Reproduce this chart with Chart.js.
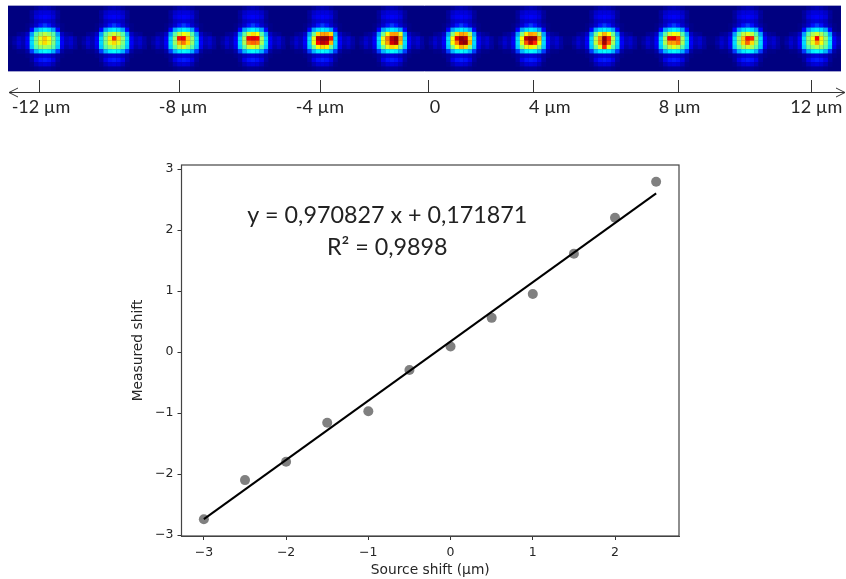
<!DOCTYPE html>
<html>
<head>
<meta charset="utf-8">
<title>Source shift vs measured shift</title>
<script src="https://cdn.jsdelivr.net/npm/chart.js@4"></script>
<style>
	body { margin: 0; background: #fff; }
	#strip { position: absolute; left: 0; top: 0; }
	#fit { position: absolute; left: 0; top: 140px; }
</style>
</head>
<body>
<canvas id="strip" width="846" height="125"></canvas>
<canvas id="fit" width="846" height="439"></canvas>
<script>
// scatter values
var sourceShift = [-3, -2.5, -2, -1.5, -1, -0.5, 0, 0.5, 1, 1.5, 2, 2.5];
var measuredShift = [-2.74, -2.10, -1.80, -1.16, -0.97, -0.295, 0.09, 0.56, 0.95, 1.61, 2.20, 2.79];
var fitX = [-3, 2.5];
var fitY = [-2.74, 2.60];
var xTickValues = [-3, -2, -1, 0, 1, 2];
var yTickValues = [-3, -2, -1, 0, 1, 2, 3];
var fitLabel = "y = 0,970827 x + 0,171871";
var r2Label = "R\u00b2 = 0,9898";

// strip: intensity in percent of the colour range, 15 rows by 17 columns around a spot
var spotProfile = [
	[0, 0, 0, 0, 0, 0, 2, 4, 5, 4, 2, 0, 0, 0, 0, 0, 0],
	[0, 0, 0, 0, 0, 3, 7, 9, 9, 9, 7, 3, 0, 0, 0, 0, 0],
	[0, 0, 0, 0, 0, 3, 9, 11, 12, 11, 9, 3, 0, 0, 0, 0, 0],
	[0, 0, 0, 0, 0, 2, 6, 8, 9, 8, 6, 2, 0, 0, 0, 0, 0],
	[0, 0, 0, 0, 1, 4, 8, 14, 18, 14, 8, 4, 1, 0, 0, 0, 0],
	[0, 0, 0, 0, 1, 12, 28, 34, 36, 34, 28, 12, 1, 0, 0, 0, 0],
	[0, 0, 2, 3, 7, 28, 42, 50, 54, 50, 42, 28, 7, 3, 2, 0, 0],
	[1, 3, 7, 5, 12, 34, 50, 60, 64, 60, 50, 34, 12, 6, 8, 4, 1],
	[1, 4, 8, 5, 12, 34, 50, 60, 64, 60, 50, 34, 12, 6, 8, 4, 1],
	[0, 2, 6, 4, 10, 32, 46, 54, 56, 54, 46, 32, 10, 4, 6, 3, 0],
	[0, 0, 1, 1, 4, 18, 30, 36, 38, 36, 30, 18, 4, 1, 1, 0, 0],
	[0, 0, 0, 0, 1, 3, 6, 8, 9, 8, 6, 3, 1, 0, 0, 0, 0],
	[0, 0, 0, 0, 0, 3, 10, 14, 15, 14, 10, 3, 0, 0, 0, 0, 0],
	[0, 0, 0, 0, 0, 1, 5, 8, 9, 8, 5, 1, 0, 0, 0, 0, 0],
	[0, 0, 0, 0, 0, 0, 1, 2, 2, 2, 1, 0, 0, 0, 0, 0, 0]
];
// brightest part of each spot, rows 6-9, columns 6-10 of the profile
var spotCores = [
	[[46, 52, 56, 52, 46], [50, 60, 68, 62, 50], [50, 60, 66, 60, 50], [46, 52, 54, 52, 46]],
	[[46, 54, 58, 54, 46], [50, 64, 82, 66, 52], [50, 60, 66, 60, 50], [46, 52, 56, 52, 46]],
	[[46, 56, 62, 58, 46], [52, 86, 88, 68, 52], [52, 70, 76, 66, 52], [46, 56, 60, 54, 46]],
	[[46, 58, 66, 62, 46], [54, 88, 90, 88, 54], [54, 76, 78, 76, 54], [46, 58, 60, 58, 46]],
	[[48, 66, 72, 72, 66], [60, 94, 98, 98, 86], [60, 88, 94, 92, 70], [48, 62, 66, 64, 48]],
	[[48, 62, 72, 72, 60], [60, 76, 94, 98, 72], [60, 72, 92, 96, 68], [48, 60, 66, 64, 50]],
	[[50, 66, 72, 70, 54], [62, 90, 98, 94, 66], [62, 76, 96, 98, 70], [50, 62, 70, 66, 50]],
	[[50, 64, 72, 70, 54], [62, 94, 98, 96, 70], [60, 80, 94, 84, 62], [50, 60, 64, 60, 50]],
	[[48, 60, 70, 62, 48], [56, 74, 98, 84, 56], [56, 74, 96, 80, 54], [48, 60, 84, 60, 46]],
	[[46, 58, 62, 60, 46], [54, 88, 90, 80, 54], [54, 72, 72, 76, 54], [46, 56, 60, 56, 46]],
	[[46, 56, 60, 56, 46], [52, 68, 86, 84, 52], [52, 66, 78, 66, 52], [46, 54, 58, 54, 46]],
	[[46, 54, 58, 54, 46], [52, 62, 88, 64, 52], [52, 60, 72, 62, 50], [46, 52, 56, 52, 46]]
];
var spotColumns = [8, 24, 40, 56, 72, 88, 104, 120, 137, 153, 170, 186];
// hand placed ruler under the strip, in strip columns
var rulerTicks = [7.1, 39.4, 71.9, 96.9, 121, 154.4, 185];
var rulerLabelAt = [7.6, 40.3, 71.9, 98.4, 124.9, 154.8, 186.3];
var rulerLabels = ["-12 \u00b5m", "-8 \u00b5m", "-4 \u00b5m", "0", "4 \u00b5m", "8 \u00b5m", "12 \u00b5m"];

var COLUMNS = 192, ROWS = 15;
var inkColor = "#262626";

function jet(p) {
	var v = p / 100;
	function ch(c) { return Math.round(255 * Math.max(0, Math.min(1, 1.5 - Math.abs(4 * v - c)))); }
	return "rgb(" + ch(3) + "," + ch(2) + "," + ch(1) + ")";
}

var cells = [];
spotColumns.forEach(function(col, s){
	spotProfile.forEach(function(row, r){
		row.forEach(function(val, c){
			if(r >= 6 && r <= 9 && c >= 6 && c <= 10){
				val = spotCores[s][r - 6][c - 6];
			}
			if(val > 0){
				cells.push({x: col + c - 8 + 0.5, y: r + 0.5, v: val});
			}
		});
	});
});

var stripPlugin = {
	id: "strip",
	beforeDatasetsDraw: function(chart){
		var a = chart.chartArea, ctx = chart.ctx;
		ctx.fillStyle = jet(0);
		ctx.fillRect(a.left, a.top, a.width, a.height);
	},
	afterDatasetsDraw: function(chart){
		// the picture is a soft scan, take the hard edge off the cells
		var a = chart.chartArea, ctx = chart.ctx;
		ctx.save();
		ctx.beginPath();
		ctx.rect(a.left, a.top, a.width, a.height);
		ctx.clip();
		ctx.filter = "blur(0.7px)";
		ctx.drawImage(chart.canvas, a.left, a.top, a.width, a.height, a.left, a.top, a.width, a.height);
		ctx.restore();
	},
	afterDraw: function(chart){
		var a = chart.chartArea, ctx = chart.ctx, sx = chart.scales.x;
		ctx.save();
		ctx.strokeStyle = "#a3a3cf";
		ctx.lineWidth = 1;
		ctx.beginPath();
		ctx.moveTo(a.left, a.top - 0.5); ctx.lineTo(a.right, a.top - 0.5);
		ctx.moveTo(a.left, a.bottom + 0.5); ctx.lineTo(a.right, a.bottom + 0.5);
		ctx.stroke();
		ctx.strokeStyle = "#333";
		ctx.beginPath();
		ctx.moveTo(9, 92.5); ctx.lineTo(845, 92.5);
		ctx.moveTo(18, 88); ctx.lineTo(9, 92.5); ctx.lineTo(18, 97);
		ctx.moveTo(836, 88); ctx.lineTo(845, 92.5); ctx.lineTo(836, 97);
		rulerTicks.forEach(function(t){
			var x = Math.round(sx.getPixelForValue(t)) + 0.5;
			ctx.moveTo(x, 80); ctx.lineTo(x, 92);
		});
		ctx.stroke();
		ctx.restore();
	}
};

new Chart(document.getElementById("strip"), {
	type: "scatter",
	data: {datasets: [{
		data: cells,
		pointStyle: "rect",
		pointRadius: 3.2,
		borderWidth: 0,
		backgroundColor: function(c){ return c.raw ? jet(c.raw.v) : "transparent"; }
	}]},
	plugins: [stripPlugin],
	options: {
		responsive: false,
		animation: false,
		layout: {padding: {left: 8, right: 5, top: 6, bottom: 0}},
		plugins: {legend: {display: false}, tooltip: {enabled: false}},
		scales: {
			x: {
				type: "linear", min: 0, max: COLUMNS,
				grid: {display: false, drawTicks: false},
				border: {display: false},
				afterBuildTicks: function(s){ s.ticks = rulerLabelAt.map(function(v){ return {value: v}; }); },
				afterFit: function(s){ s.height = 54; s.paddingLeft = 0; s.paddingRight = 0; },
				ticks: {
					autoSkip: false, maxRotation: 0, padding: 25, color: inkColor,
					font: {family: "Lato", size: 18},
					callback: function(v, i){ return rulerLabels[i]; }
				}
			},
			y: {type: "linear", min: 0, max: ROWS, reverse: true, display: false}
		}
	}
});

var framePlugin = {
	id: "frame",
	afterDraw: function(chart){
		var a = chart.chartArea, ctx = chart.ctx;
		ctx.save();
		ctx.strokeStyle = "#444";
		ctx.lineWidth = 1.2;
		ctx.strokeRect(a.left, a.top, a.width, a.height);
		ctx.fillStyle = "#222";
		ctx.font = "23.3px Lato";
		ctx.textAlign = "center";
		ctx.textBaseline = "middle";
		var cx = chart.scales.x.getPixelForValue(-0.77);
		ctx.fillText(fitLabel, cx, chart.scales.y.getPixelForValue(2.24));
		ctx.fillText(r2Label, cx, chart.scales.y.getPixelForValue(1.72));
		ctx.restore();
	}
};

function minusLabel(v){ return String(v).replace("-", "\u2212"); }

new Chart(document.getElementById("fit"), {
	type: "scatter",
	data: {datasets: [
		{
			type: "line",
			data: fitX.map(function(x, i){ return {x: x, y: fitY[i]}; }),
			borderColor: "#000", borderWidth: 2, pointRadius: 0, fill: false, order: 0
		},
		{
			data: sourceShift.map(function(x, i){ return {x: x, y: measuredShift[i]}; }),
			backgroundColor: "#808080", borderWidth: 0, pointRadius: 5, order: 1
		}
	]},
	plugins: [framePlugin],
	options: {
		responsive: false,
		animation: false,
		layout: {padding: {left: 130, right: 167, top: 25, bottom: 0}},
		plugins: {legend: {display: false}, tooltip: {enabled: false}},
		scales: {
			x: {
				type: "linear", min: -3.272, max: 2.778,
				grid: {drawOnChartArea: false, tickLength: 4, color: "#333"},
				border: {color: "#444"},
				afterBuildTicks: function(s){ s.ticks = xTickValues.map(function(v){ return {value: v}; }); },
				afterFit: function(s){ s.height = 43; },
				title: {display: true, text: "Source shift (\u00b5m)", color: inkColor, font: {family: "DejaVu Sans", size: 13.8}, padding: 0},
				ticks: {padding: 5, color: inkColor, font: {family: "DejaVu Sans", size: 12.5}, callback: minusLabel}
			},
			y: {
				type: "linear", min: -3.016, max: 3.066,
				grid: {drawOnChartArea: false, tickLength: 4, color: "#333"},
				border: {color: "#444"},
				afterBuildTicks: function(s){ s.ticks = yTickValues.map(function(v){ return {value: v}; }); },
				afterFit: function(s){ s.width = 51.5; },
				title: {display: true, text: "Measured shift", color: inkColor, font: {family: "DejaVu Sans", size: 13.8}, padding: 0},
				ticks: {padding: 4, color: inkColor, font: {family: "DejaVu Sans", size: 12.5}, callback: minusLabel}
			}
		}
	}
});
</script>
</body>
</html>
